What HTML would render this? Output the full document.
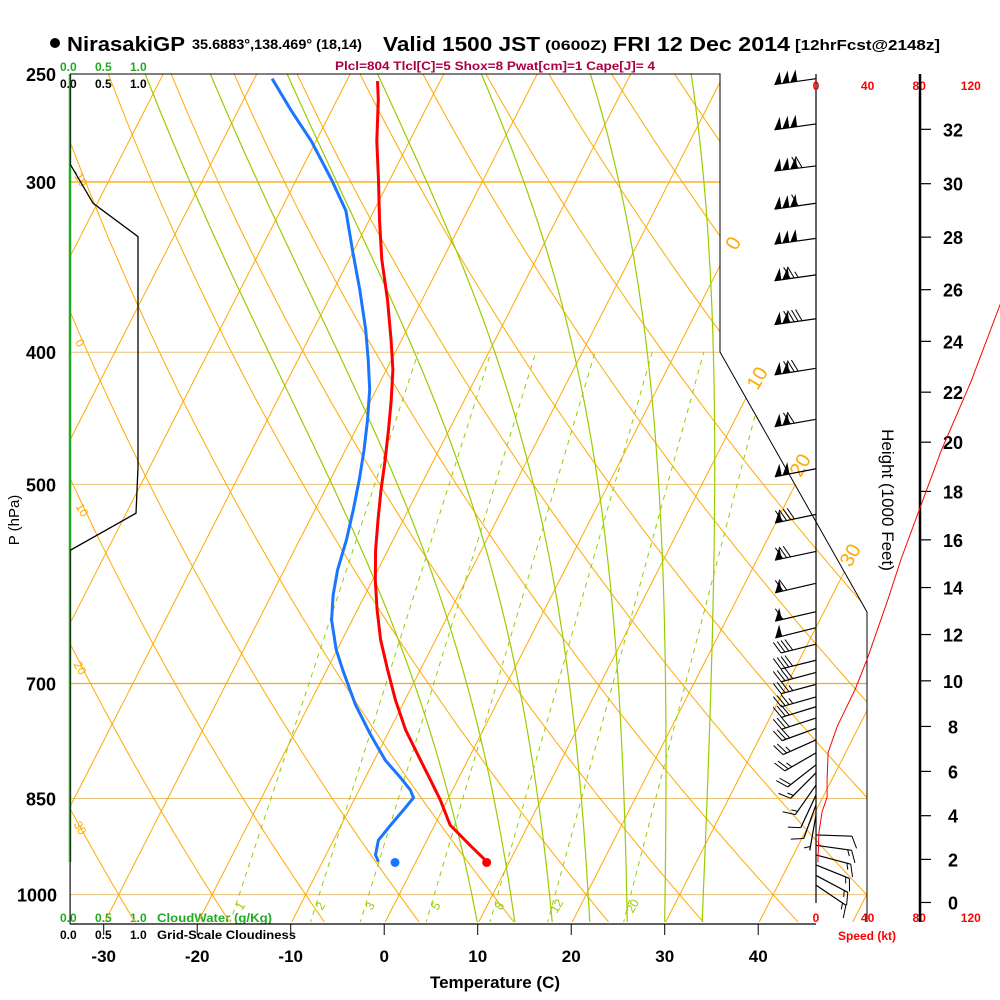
<!DOCTYPE html>
<html><head><meta charset="utf-8"><title>Skew-T NirasakiGP</title>
<style>
html,body{margin:0;padding:0;background:#fff;}
svg{display:block;font-family:"Liberation Sans",Arial,sans-serif;}
</style></head>
<body>
<svg id="chart" width="1000" height="1000" viewBox="0 0 1000 1000" xmlns="http://www.w3.org/2000/svg">
<rect x="0" y="0" width="1000" height="1000" fill="#fff"/>
<defs><clipPath id="plotclip"><polygon points="70,74 720,74 720,352 867,612 867,922 70,922"/></clipPath></defs>
<g font-weight="bold">
<circle cx="55" cy="43" r="5" fill="#000"/>
<text x="67" y="51" font-size="20" textLength="118" lengthAdjust="spacingAndGlyphs">NirasakiGP</text>
<text x="192" y="49" font-size="13.5" textLength="170" lengthAdjust="spacingAndGlyphs">35.6883°,138.469° (18,14)</text>
<text x="383" y="51" font-size="20" textLength="157" lengthAdjust="spacingAndGlyphs">Valid 1500 JST</text>
<text x="545" y="50" font-size="14" textLength="62" lengthAdjust="spacingAndGlyphs">(0600Z)</text>
<text x="613" y="51" font-size="20" textLength="177" lengthAdjust="spacingAndGlyphs">FRI 12 Dec 2014</text>
<text x="795" y="50" font-size="15" textLength="145" lengthAdjust="spacingAndGlyphs">[12hrFcst@2148z]</text>
</g>
<text x="335" y="70" font-size="12" font-weight="bold" fill="#aa0044" textLength="320" lengthAdjust="spacingAndGlyphs">Plcl=804 Tlcl[C]=5 Shox=8 Pwat[cm]=1 Cape[J]= 4</text>
<g font-size="12" font-weight="bold">
<text x="60" y="71" fill="#22aa22">0.0</text>
<text x="95" y="71" fill="#22aa22">0.5</text>
<text x="130" y="71" fill="#22aa22">1.0</text>
<text x="60" y="88" fill="#000">0.0</text>
<text x="95" y="88" fill="#000">0.5</text>
<text x="130" y="88" fill="#000">1.0</text>
</g>
<g font-size="12" font-weight="bold">
<text x="60" y="922" fill="#22aa22">0.0</text>
<text x="95" y="922" fill="#22aa22">0.5</text>
<text x="130" y="922" fill="#22aa22">1.0</text>
<text x="157" y="922" fill="#22aa22" textLength="115" lengthAdjust="spacingAndGlyphs">CloudWater (g/Kg)</text>
<text x="60" y="939" fill="#000">0.0</text>
<text x="95" y="939" fill="#000">0.5</text>
<text x="130" y="939" fill="#000">1.0</text>
<text x="157" y="939" fill="#000" textLength="139" lengthAdjust="spacingAndGlyphs">Grid-Scale Cloudiness</text>
</g>
<text x="495" y="988" font-size="17" font-weight="bold" text-anchor="middle">Temperature (C)</text>
<text transform="translate(19,520) rotate(-90)" font-size="15" text-anchor="middle">P (hPa)</text>
<text transform="translate(882,500) rotate(90)" font-size="17" text-anchor="middle">Height (1000 Feet)</text>
<text x="838" y="940" font-size="12" font-weight="bold" fill="#ff0000">Speed (kt)</text>
</svg>
<script>
// ---- data ----
const tempP = [946,920,889,852,824,790,757,720,684,650,618,588,559,531,505,480,456,434,412,392,366,342,320,299,280,261,253];
const tempT = [7.6,4.9,1.65,-0.77,-2.9,-5.6,-8.3,-11.0,-13.5,-15.9,-17.9,-19.7,-21.3,-22.7,-24.0,-25.2,-26.5,-27.8,-29.3,-31.1,-33.7,-36.5,-38.9,-41.2,-43.5,-45.6,-46.7];
const dewP = [946,935,912,889,864,849,838,821,797,763,726,684,661,629,603,578,549,522,496,472,448,426,405,385,360,337,315,299,280,266,252];
const dewT = [-4.0,-4.7,-5.2,-4.7,-4.1,-3.75,-4.5,-6.2,-8.8,-11.8,-15.0,-18.3,-20.1,-22.2,-23.4,-24.3,-25.0,-25.9,-26.9,-28.0,-29.3,-30.7,-32.5,-34.4,-37.2,-40.1,-43.0,-46.2,-50.5,-54.3,-58.1];
const sfcP = 947;
const sfcT = 7.6;
const sfcTd = -2.2;
const windP = [252,272,292,311,330,351,378,411,448,487,526,560,591,620,637,655,673,687,701,716,728,742,755,770,787,803,814,831,845,859,874,904,920,935,951,968,984];
const windDir = [262,262,263,262,262,262,262,261,260,259,258,258,257,257,256,256,256,255,255,254,253,252,250,246,240,232,225,215,205,200,190,92,98,105,112,118,124];
const windSpd = [150,150,170,160,150,125,140,130,120,100,90,80,70,60,50,40,40,40,35,35,30,30,30,25,25,20,15,15,10,10,5,10,15,15,15,15,15];
const profHgt = [1.86,3.26,4.18,4.84,5.64,6.84,8.0,9.64,10.96,13.53,15.2,19.65,22.4,25.6,27.0];
const profSpd = [1.5,2.3,4.7,8.6,8.6,9.4,16.4,30.5,39.8,56,66,97,120,144,156];
const cloudP = [250,291,311,329,486,525,559,1050];
const cloudF = [0,0,0.34,1.0,1.0,0.97,0,0];
const pLevels = [250,300,400,500,700,850,1000];
const tTicks = [-30,-20,-10,0,10,20,30,40];
const hTicks = [0,2,4,6,8,10,12,14,16,18,20,22,24,26,28,30,32];
const spdTicks = [0,40,80,120];
const isoT = [-130,-120,-110,-100,-90,-80,-70,-60,-50,-40,-30,-20,-10,0,10,20,30,40,50];
const dryTheta = [-40,-30,-20,-10,0,10,20,30,40,50,60,70,80,90,100,110,120,130,140,150,160,170,180];
const moistStart = [10,14,18,22,26,30,34];
const mixW = [1,2,3,5,8,12,20];

// ---- scales ----
function Y(p){ return 74 + 592*Math.log(p/250); }
function X(T,p){ return 399 + 9.35*T + 0.51*(895 - Y(p)); }
function hToP(h){ const z=h*304.8; return 1013.25*Math.pow(1-2.25577e-5*z,5.25588); }
function SX(s){ return 816 + s*1.29; }
function CX(f){ return 70 + 68*f; }

const NS='http://www.w3.org/2000/svg';
const svg=document.getElementById('chart');
function mk(tag, attrs, parent){ const e=document.createElementNS(NS,tag); for(const k in attrs) e.setAttribute(k,attrs[k]); (parent||svg).appendChild(e); return e; }
function pathFrom(pts){ return pts.map((q,i)=>(i?'L':'M')+q[0].toFixed(1)+','+q[1].toFixed(1)).join(''); }

const bg = mk('g',{'clip-path':'url(#plotclip)'});



// pressure lines
pLevels.forEach(p=>{
  if(p===250) return;
  const strong=(p===300||p===700);
  const l=mk('line',{x1:70,x2:900,y1:Y(p),y2:Y(p),stroke:strong?'#ffaa00':'#e9c27a','stroke-width':strong?1.3:1},bg);
  
  
});
// isotherms
isoT.forEach(t=>{
  const l=mk('line',{x1:X(t,1060),y1:Y(1060),x2:X(t,240),y2:Y(240),stroke:'#ffaa00','stroke-width':1},bg);
  
  
});
// dry adiabats
dryTheta.forEach(th=>{
  const pts=[]; for(let p=1060;p>=240;p-=10){ const T=(th+273.15)*Math.pow(p/1000,0.2857)-273.15; pts.push([X(T,p),Y(p)]); }
  const l=mk('path',{d:pathFrom(pts),fill:'none',stroke:'#ffaa00','stroke-width':1},bg);
  
  
});
// moist adiabats
function esat(Tc){ return 6.112*Math.exp(17.67*Tc/(Tc+243.5)); }
moistStart.forEach(t0=>{
  let T=t0+273.15, p=1051; const pts=[[X(t0,p),Y(p)]];
  while(p>250){
    const dp=-2; const es=esat(T-273.15); const rs=0.622*es/(p-es);
    const dTdp=(287*T+2.5e6*rs)/(p*(1004+2.5e6*2.5e6*rs*0.622/(287*T*T)));
    T+=dTdp*dp; p+=dp; pts.push([X(T-273.15,p),Y(p)]);
  }
  const l=mk('path',{d:pathFrom(pts),fill:'none',stroke:'#99cc00','stroke-width':1.2},bg);
  
  
});
// mixing ratio
function tdFromW(w,p){ const e=w*p/(622+w); const a=Math.log(e/6.112); return 243.5*a/(17.67-a); }
mixW.forEach(w=>{
  const l=mk('line',{x1:X(tdFromW(w,1051),1051),y1:Y(1051),x2:X(tdFromW(w,400),400),y2:Y(400),stroke:'#99cc00','stroke-width':1,'stroke-dasharray':'5,5'},bg);
  
  
  const tx=mk('text',{x:X(tdFromW(w,1025),1025)+6,y:910,'font-size':12,fill:'#99cc00','text-anchor':'middle',transform:'rotate(-60 '+(X(tdFromW(w,1025),1025)+6)+' 906)'});
  tx.textContent=String(w);
  
  
});

// isotherm labels outside plot (right)
[[0,733,243],[10,757,378],[20,800,465],[30,850,555]].forEach(a=>{
  const tx=mk('text',{x:a[1],y:a[2]+7,'font-size':20,fill:'#ffaa00','text-anchor':'middle',transform:'rotate(-60 '+a[1]+' '+a[2]+')'});
  tx.textContent=String(a[0]);
  
  
});
[['-10',80,178],['0',80,343],['10',82,510],['20',80,668],['30',80,828]].forEach(a=>{
  const tx=mk('text',{x:a[1],y:a[2]+4,'font-size':12,fill:'#ffaa00','text-anchor':'middle',transform:'rotate(60 '+a[1]+' '+a[2]+')'});
  tx.textContent=a[0];
  
  
});

// frame
const frame=mk('polyline',{points:'70,74 720,74 720,352 867,612 867,922',fill:'none',stroke:'#000','stroke-width':1});


const cwLine=mk('line',{x1:70,y1:74,x2:70,y2:862,stroke:'#22aa22','stroke-width':2.5});


const lAx=mk('line',{x1:70,y1:862,x2:70,y2:924,stroke:'#000','stroke-width':1});


const bAx=mk('line',{x1:70,y1:924,x2:816,y2:924,stroke:'#000','stroke-width':1.2});



// cloudiness
const cpts=cloudP.map((p,i)=>[CX(cloudF[i]),Math.min(Y(p),922)]);
const cl=mk('path',{d:pathFrom(cpts),fill:'none',stroke:'#000','stroke-width':1.3,'clip-path':'url(#plotclip)'});



// pressure labels
pLevels.forEach(p=>{
  const tx=mk('text',{x:p===1000?57:56,y:Y(p)+7,'font-size':18,'font-weight':'bold','text-anchor':'end'});
  tx.textContent=String(p);
  
  
});
// temperature ticks
tTicks.forEach(t=>{
  const x=X(t,Y.inv||1051);
  const xx=399+9.35*t-0.51*29;
  const tk=mk('line',{x1:xx,x2:xx,y1:924,y2:935,stroke:'#000','stroke-width':1});
  
  
  const tx=mk('text',{x:xx,y:962,'font-size':17,'font-weight':'bold','text-anchor':'middle'});
  tx.textContent=String(t);
  
  
});

// temperature & dewpoint
const tl=mk('path',{d:pathFrom(tempP.map((p,i)=>[X(tempT[i],p),Y(p)])),fill:'none',stroke:'#ff0000','stroke-width':3,'stroke-linejoin':'round'});


const dl=mk('path',{d:pathFrom(dewP.map((p,i)=>[X(dewT[i],p),Y(p)])),fill:'none',stroke:'#1a75ff','stroke-width':3,'stroke-linejoin':'round'});


const td=mk('circle',{cx:X(sfcT,sfcP),cy:Y(sfcP),r:4.5,fill:'#ff0000'});


const dd=mk('circle',{cx:X(sfcTd,sfcP),cy:Y(sfcP),r:4.5,fill:'#1a75ff'});



// wind staff axis
const ws=mk('line',{x1:816,y1:74,x2:816,y2:903,stroke:'#000','stroke-width':1.2});


// wind barbs
windP.forEach((p,i)=>{
  const g=mk('g',{});
  
  
  const d=windDir[i]*Math.PI/180; const sx=Math.sin(d), sy=-Math.cos(d);
  const L=(windSpd[i]>=50)?42:36; const x0=816,y0=Y(p);
  const tx=x0+sx*L, ty=y0+sy*L;
  mk('line',{x1:x0,y1:y0,x2:tx,y2:ty,stroke:'#000','stroke-width':1.2},g);
  const fx=-sy, fy=sx; let s=Math.round(windSpd[i]/5)*5; let pos=0;
  while(s>=50){ const ax=tx-sx*pos, ay=ty-sy*pos, bx=tx-sx*(pos+7), by=ty-sy*(pos+7);
    mk('polygon',{points:ax+','+ay+' '+bx+','+by+' '+(bx+fx*12)+','+(by+fy*12),fill:'#000'},g); pos+=8; s-=50; }
  while(s>=10){ const ax=tx-sx*pos, ay=ty-sy*pos;
    mk('line',{x1:ax,y1:ay,x2:ax+fx*12+sx*5,y2:ay+fy*12+sy*5,stroke:'#000','stroke-width':1},g); pos+=4; s-=10; }
  if(s>=5){ if(pos===0)pos=4; const ax=tx-sx*pos, ay=ty-sy*pos;
    mk('line',{x1:ax,y1:ay,x2:ax+fx*6+sx*2.5,y2:ay+fy*6+sy*2.5,stroke:'#000','stroke-width':1},g); }
});

// speed axis labels
[74,918].forEach((yy,k)=>{
  spdTicks.forEach(s=>{
    const tx=mk('text',{x:SX(s),y:k?yy+4:yy+16,'font-size':12,'font-weight':'bold',fill:'#ff0000','text-anchor':'middle'});
    tx.textContent=String(s);
    
    
  });
});
// height axis
const ha=mk('line',{x1:920,y1:74,x2:920,y2:922,stroke:'#000','stroke-width':2.5});


hTicks.forEach(h=>{
  const y=Y(hToP(h));
  const tk=mk('line',{x1:920,x2:931,y1:y,y2:y,stroke:'#000','stroke-width':1.2});
  
  
  const tx=mk('text',{x:953,y:y+7,'font-size':18,'font-weight':'bold','text-anchor':'middle'});
  tx.textContent=String(h);
  
  
});
// wind speed profile
const sp=mk('path',{d:pathFrom(profHgt.map((h,i)=>[SX(profSpd[i]),Y(hToP(h))])),fill:'none',stroke:'#ff0000','stroke-width':1});


</script>
</body></html>
